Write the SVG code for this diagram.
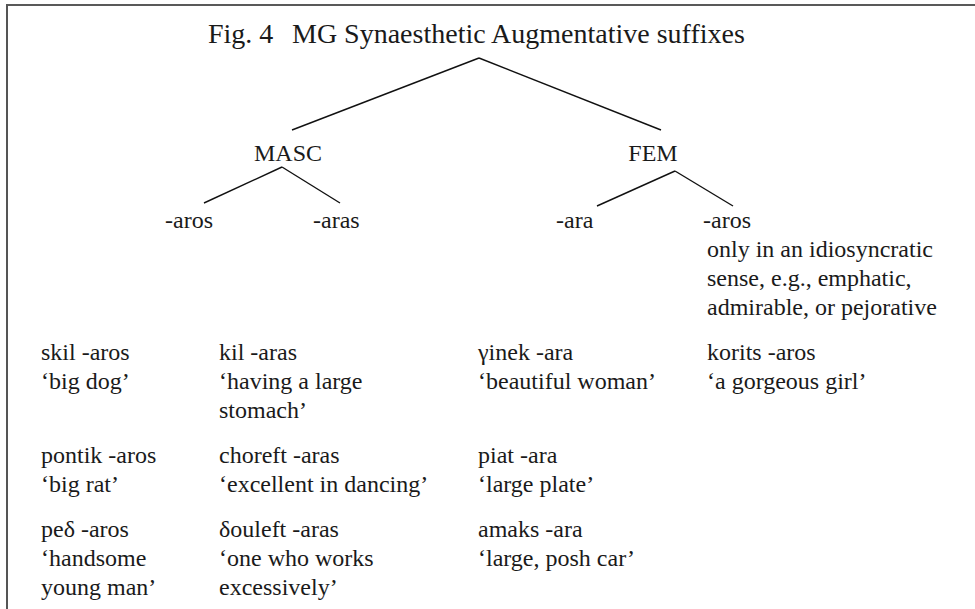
<svg xmlns="http://www.w3.org/2000/svg" width="975" height="609" viewBox="0 0 975 609">
<style>
text{font-family:"Liberation Serif","Times New Roman",serif;font-size:24px;fill:#1a1a1a}
.t{font-size:28px}
.c{stroke:#111;stroke-width:1.4;fill:none}
</style>
<rect width="975" height="609" fill="#fff"/>
<g id="frame">
<line x1="6" y1="5" x2="975" y2="5" stroke="#222" stroke-width="1.6"/>
<line x1="7" y1="4.5" x2="7" y2="609" stroke="#555" stroke-width="2"/>
</g>
<g id="title"><text class="t" x="208" y="43">Fig. 4<tspan x="292">MG Synaesthetic Augmentative suffixes</tspan></text></g>
<g id="connectors">
<line class="c" x1="479" y1="58" x2="292" y2="130"/>
<line class="c" x1="479" y1="58" x2="661" y2="130"/>
<line class="c" x1="282" y1="167" x2="204" y2="203"/>
<line class="c" x1="282" y1="167" x2="340" y2="203"/>
<line class="c" x1="675" y1="171" x2="597" y2="206"/>
<line class="c" x1="675" y1="171" x2="733" y2="206"/>
</g>
<g id="masc"><text x="288" y="161" text-anchor="middle">MASC</text></g>
<g id="fem"><text x="653" y="161" text-anchor="middle">FEM</text></g>
<g id="m-aros"><text x="165" y="228">-aros</text></g>
<g id="m-aras"><text x="313" y="228">-aras</text></g>
<g id="f-ara"><text x="556" y="228">-ara</text></g>
<g id="f-aros"><text x="703" y="228">-aros</text>
<text x="707" y="257">only in an idiosyncratic</text>
<text x="707" y="286">sense, e.g., emphatic,</text>
<text x="707" y="315">admirable, or pejorative</text></g>
<g id="ex-skil"><text x="41" y="360">skil -aros</text><text x="41" y="389">‘big dog’</text></g>
<g id="ex-kil"><text x="219" y="360">kil -aras</text><text x="219" y="389">‘having a large</text><text x="219" y="418">stomach’</text></g>
<g id="ex-ginek"><text x="478" y="360">γinek -ara</text><text x="478" y="389">‘beautiful woman’</text></g>
<g id="ex-korits"><text x="707" y="360">korits -aros</text><text x="707" y="389">‘a gorgeous girl’</text></g>
<g id="ex-pontik"><text x="41" y="463">pontik -aros</text><text x="41" y="492">‘big rat’</text></g>
<g id="ex-choreft"><text x="219" y="463">choreft -aras</text><text x="219" y="492">‘excellent in dancing’</text></g>
<g id="ex-piat"><text x="478" y="463">piat -ara</text><text x="478" y="492">‘large plate’</text></g>
<g id="ex-ped"><text x="41" y="537">peδ -aros</text><text x="41" y="566">‘handsome</text><text x="41" y="595">young man’</text></g>
<g id="ex-douleft"><text x="219" y="537">δouleft -aras</text><text x="219" y="566">‘one who works</text><text x="219" y="595">excessively’</text></g>
<g id="ex-amaks"><text x="478" y="537">amaks -ara</text><text x="478" y="566">‘large, posh car’</text></g>
</svg>
